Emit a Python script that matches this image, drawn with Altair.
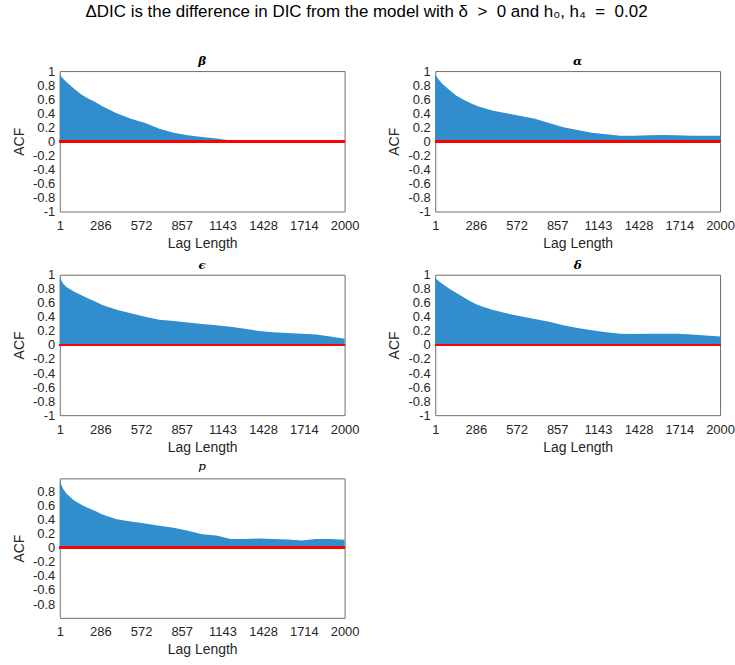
import altair as alt
import pandas as pd

lags = [1, 25, 50, 100, 150, 200, 250, 300, 400, 500, 600, 700, 800, 900,
        1000, 1100, 1200, 1300, 1400, 1500, 1600, 1700, 1800, 1900, 2000]

acf_beta = [0.95, 0.89, 0.84, 0.75, 0.67, 0.61, 0.56, 0.50, 0.40, 0.32, 0.26,
            0.18, 0.12, 0.085, 0.06, 0.04, 0.01, 0.0, -0.005, -0.01, -0.005,
            0.0, 0.0, 0.0, 0.0]
acf_alpha = [0.95, 0.88, 0.82, 0.73, 0.65, 0.59, 0.54, 0.50, 0.44, 0.40, 0.36,
             0.32, 0.26, 0.20, 0.16, 0.12, 0.10, 0.08, 0.08, 0.085, 0.09,
             0.085, 0.08, 0.08, 0.08]
acf_eps = [0.96, 0.87, 0.82, 0.76, 0.71, 0.66, 0.62, 0.57, 0.50, 0.45, 0.40,
           0.36, 0.34, 0.32, 0.30, 0.28, 0.26, 0.23, 0.20, 0.18, 0.17, 0.16,
           0.15, 0.12, 0.09]
acf_delta = [0.95, 0.91, 0.87, 0.80, 0.74, 0.68, 0.62, 0.57, 0.50, 0.45, 0.41,
             0.37, 0.33, 0.28, 0.24, 0.21, 0.18, 0.16, 0.155, 0.16, 0.16, 0.16,
             0.15, 0.135, 0.12]
acf_p = [0.94, 0.83, 0.76, 0.67, 0.61, 0.56, 0.52, 0.47, 0.40, 0.37, 0.34,
         0.31, 0.28, 0.24, 0.19, 0.17, 0.12, 0.12, 0.13, 0.12, 0.115, 0.10,
         0.12, 0.12, 0.11]

x_ticks = [1, 286, 572, 857, 1143, 1428, 1714, 2000]
y_ticks_full = [-1, -0.8, -0.6, -0.4, -0.2, 0, 0.2, 0.4, 0.6, 0.8, 1]
y_ticks_p = [-0.8, -0.6, -0.4, -0.2, 0, 0.2, 0.4, 0.6, 0.8]

panel_titles = ["β", "α", "ϵ", "δ", "p"]

BLUE = "#318dcc"
RED = "#ff0000"


def panel(values, title, bold, ydomain, yticks, height, toff):
    df = pd.DataFrame({"lag": lags, "acf": values})
    base = alt.Chart(df)
    x = alt.X("lag:Q", scale=alt.Scale(domain=[1, 2000], nice=False, zero=False),
              axis=alt.Axis(values=x_ticks, tickCount=len(x_ticks),
                            title="Lag Length",
                            labelExpr="toString(datum.value)"))
    y = alt.Y("acf:Q", scale=alt.Scale(domain=ydomain, nice=False, zero=False),
              axis=alt.Axis(values=yticks, tickCount=len(yticks), title="ACF",
                            labelExpr="toString(datum.value)"))
    area = base.mark_area(color=BLUE, opacity=1, interpolate="linear").encode(
        x=x, y=y, y2=alt.datum(0)
    )
    rule = base.mark_rule(color=RED, strokeWidth=2).encode(y=alt.datum(0))
    return alt.layer(area, rule).properties(
        width=286, height=height,
        title=alt.TitleParams(title, font="DejaVu Serif", fontSize=12,
                              fontStyle="italic",
                              fontWeight="bold" if bold else "normal",
                              color="black", offset=toff),
    )


p1 = panel(acf_beta, panel_titles[0], True, [-1, 1], y_ticks_full, 141, -3)
p2 = panel(acf_alpha, panel_titles[1], True, [-1, 1], y_ticks_full, 141, -3)
p3 = panel(acf_eps, panel_titles[2], True, [-1, 1], y_ticks_full, 141, -3)
p4 = panel(acf_delta, panel_titles[3], True, [-1, 1], y_ticks_full, 141, -3)
p5 = panel(acf_p, panel_titles[4], False, [-0.995, 0.98], y_ticks_p, 140, 5)

NB = "\u00a0"
main_title = ("ΔDIC is the difference in DIC from the model with δ" + NB * 2 + ">"
              + NB * 2 + "0 and h₀," + NB + "h₄" + NB * 2 + "=" + NB * 2 + "0.02")

chart = alt.concat(
    p1, p2, p3, p4, p5, columns=2, bounds="flush",
    spacing=alt.RowColnumber(row=63.5, column=91),
).properties(
    title=alt.TitleParams(
        main_title, font="Liberation Sans", fontSize=17, fontWeight="normal",
        color="black", anchor="middle", offset=34, dx=-7),
    padding={"left": 12, "top": 1, "right": 0, "bottom": 5},
    background="white",
).configure_view(
    stroke="#6e6e6e", strokeWidth=1
).configure_axis(
    grid=False, domain=False, ticks=False, labelOverlap=False,
    labelFlush=False, labelBound=False,
    labelFont="Liberation Sans", labelFontSize=13, labelColor="#262626",
    titleFont="Liberation Sans", titleFontSize=14, titleColor="#262626",
    titleFontWeight="normal",
).configure_axisX(
    labelPadding=8, titlePadding=4
).configure_axisY(
    labelPadding=5, titlePadding=6
)

chart.save("out.html", embed_options={"renderer": "svg", "actions": False})
